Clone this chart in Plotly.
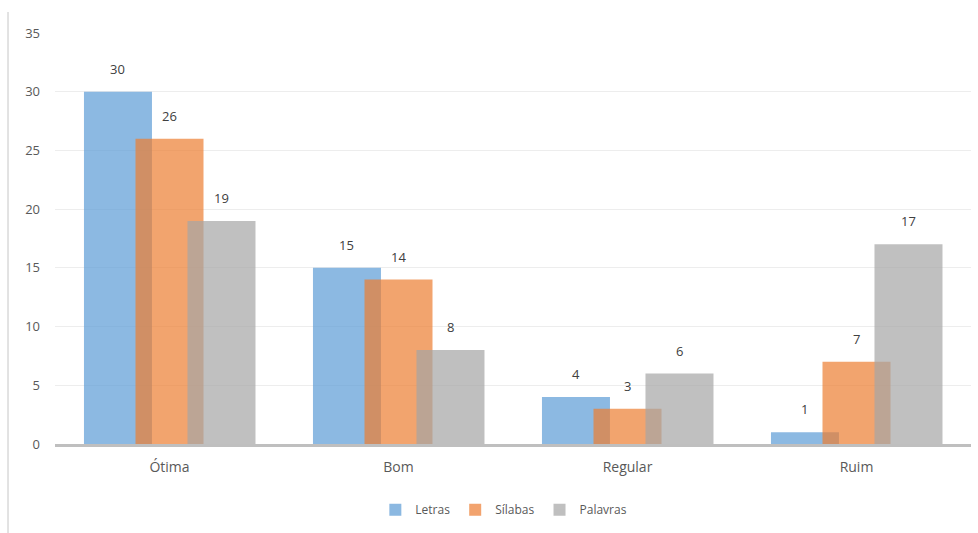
import plotly.graph_objects as go

categories = ["Ótima", "Bom", "Regular", "Ruim"]
series_names = ["Letras", "Sílabas", "Palavras"]
letras = [30, 15, 4, 1]
silabas = [26, 14, 3, 7]
palavras = [19, 8, 6, 17]
series_values = [letras, silabas, palavras]
colors = ["#5B9BD5", "#ED7D31", "#A5A5A5"]
y_ticks = [0, 5, 10, 15, 20, 25, 30, 35]

bar_w = 0.297
centers = [-0.225, 0.0, 0.227]

fig = go.Figure()
for name, vals, col, c in zip(series_names, series_values, colors, centers):
    fig.add_trace(go.Bar(
        x=categories, y=vals, name=name,
        marker=dict(color=col, line=dict(width=0)),
        opacity=0.7, width=bar_w, offset=c - bar_w / 2,
    ))

annotations = []
for vals, c in zip(series_values, centers):
    for i, v in enumerate(vals):
        annotations.append(dict(
            x=i + c, y=v, xref="x", yref="y", text=str(v), showarrow=False,
            yshift=23, font=dict(size=13, color="#404040"),
        ))

fig.update_layout(
    width=978, height=533,
    margin=dict(l=55, r=7, t=33, b=89),
    paper_bgcolor="white", plot_bgcolor="white",
    barmode="overlay",
    font=dict(family="Open Sans, Noto Sans, sans-serif", size=13, color="#595959"),
    annotations=annotations,
    showlegend=True,
    legend=dict(orientation="h", x=0.49, xanchor="center", y=-0.16, yanchor="middle",
                font=dict(size=12, color="#595959"), itemwidth=30, traceorder="normal"),
    shapes=[dict(type="line", xref="paper", yref="paper",
                 x0=-0.0513, x1=-0.0513, y0=-0.22, y1=1.051,
                 line=dict(color="#D9D9D9", width=1.5))],
)
fig.update_xaxes(
    showgrid=False, showline=True, linecolor="#BFBFBF", linewidth=2.5,
    ticks="", tickfont=dict(size=14, color="#595959"), ticklabelstandoff=8,
)
fig.update_yaxes(
    range=[0, 35], tickvals=y_ticks, showgrid=True, gridcolor="#EDEDED", gridwidth=1,
    zeroline=False, showline=False, ticks="", ticklabelstandoff=14,
    tickfont=dict(size=13, color="#595959"),
)

fig.write_html("out.html")
